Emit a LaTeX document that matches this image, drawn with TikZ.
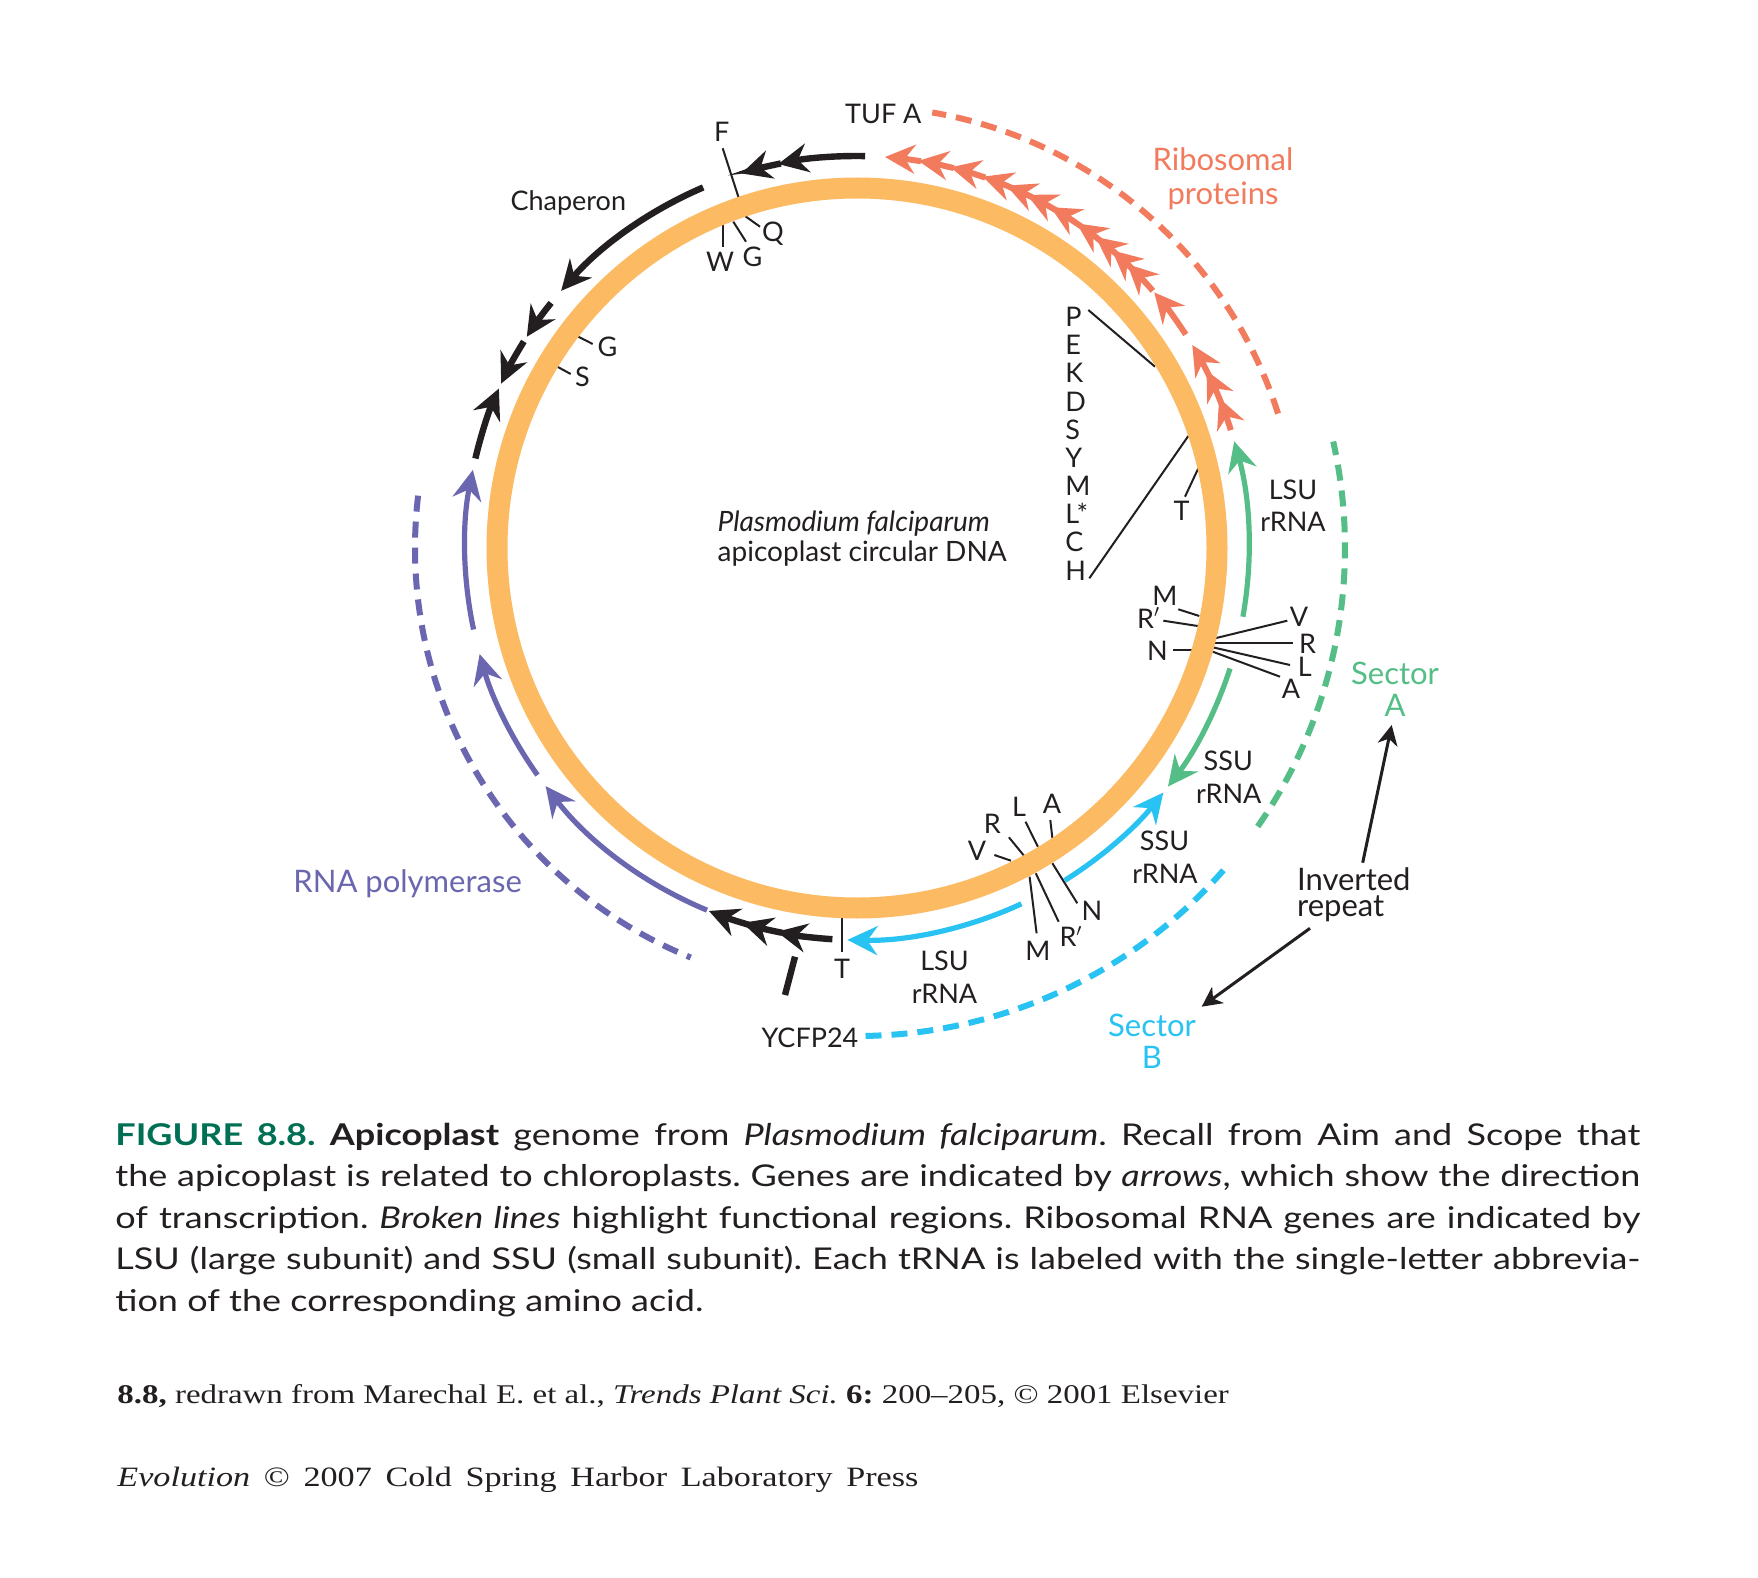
\documentclass[tikz,border=0pt]{standalone}
\usepackage{fontspec}
\setmainfont{Lato}
\newfontfamily\capfont[FakeStretch=1.2]{Lato}
\newfontfamily\credfont[FakeStretch=1.22]{Liberation Serif}
\usetikzlibrary{arrows.meta,calc}
\definecolor{ringc}{RGB}{252,186,99}
\definecolor{riboc}{RGB}{242,123,94}
\definecolor{polc}{RGB}{106,103,176}
\definecolor{secac}{RGB}{84,190,134}
\definecolor{secbc}{RGB}{40,195,242}
\definecolor{figc}{RGB}{0,112,84}
\definecolor{inkc}{RGB}{35,31,32}
\newcommand\genearc[4]{\draw[#1] ($(C)+(-#3:#2)$) arc[start angle=-#3,end angle=-#4,radius=#2];}
\begin{document}
\frenchspacing
\begin{tikzpicture}[x=0.5pt,y=-0.5pt,
  hd/.style={-{Stealth[length=15pt,width=14.5pt,inset=5pt]}},
  gk/.style={hd,draw=inkc,line width=3.2pt},
  gr/.style={hd,draw=riboc,line width=3pt},
  gp/.style={hd,draw=polc,line width=2.6pt},
  ga/.style={hd,draw=secac,line width=2.6pt},
  gb/.style={hd,draw=secbc,line width=2.6pt},
  dsh/.style={line width=3pt,dash pattern=on 8pt off 5pt},
  tick/.style={draw=inkc,line width=1pt},
  lbl/.style={inner sep=0pt,anchor=base,text=inkc,font=\fontsize{13.5}{16}\selectfont},
  big/.style={inner sep=0pt,anchor=base,font=\fontsize{15.5}{18}\selectfont},
  ptr/.style={draw=inkc,line width=1.5pt,-{Stealth[length=10pt,width=10pt,inset=3pt]}}]
\fill[white] (0,0) rectangle (1758,1578);
\useasboundingbox (0,0) rectangle (1758,1578);
\coordinate (C) at (857,548);

% functional regions (broken lines)
\genearc{dsh,draw=riboc}{442}{17.7}{80.2}
\genearc{dsh,draw=polc}{442}{173.2}{247.9}
\genearc{dsh,draw=secac}{488}{325.2}{372.6}
\genearc{dsh,draw=secbc}{488}{271}{319.1}

% tRNA ticks
\draw[tick] (722.7,148.3) -- (741,205);
\draw[tick] (722.7,225) -- (722.7,246.7);
\draw[tick] (733.3,221.7) -- (746,241.7);
\draw[tick] (745,216) -- (760,226.7);
\draw[tick] (578.3,336.7) -- (592.7,344);
\draw[tick] (557.3,366.7) -- (570.7,374);
\draw[tick] (1088.3,310) -- (1155,366.7);
\draw[tick] (1089.3,578.3) -- (1188.3,436);
\draw[tick] (1185,496.7) -- (1198.3,468.3);
\draw[tick] (1178.3,609.3) -- (1199.3,616);
\draw[tick] (1163.3,620.7) -- (1197.7,626);
\draw[tick] (1173.3,650) -- (1191.7,650);
\draw[tick] (1215,638.3) -- (1287.3,620.7);
\draw[tick] (1213.3,643.3) -- (1293.3,643.3);
\draw[tick] (1212.7,647.3) -- (1290,665);
\draw[tick] (1212.7,651.7) -- (1280,676.7);
\draw[tick] (994.4,855) -- (1011,860.7);
\draw[tick] (1008.9,837.3) -- (1027.5,860);
\draw[tick] (1025.5,821.7) -- (1037.9,846.7);
\draw[tick] (1050.3,820) -- (1052.4,838.3);
\draw[tick] (1029.6,876.7) -- (1036.6,933.3);
\draw[tick] (1035.8,873.3) -- (1058.6,921.7);
\draw[tick] (1052.4,863.3) -- (1077.3,903.3);
\draw[tick] (842.2,918.3) -- (842.2,951.7);
\draw[draw=inkc,line width=3.2pt] (795,956.7) -- (785,995);

% genome ring
\draw[ringc,line width=10.5pt] (C) circle[radius=360];

% ribosomal protein genes
\genearc{gr}{392}{17.5}{22.5}
\genearc{gr}{392}{21.6}{26.9}
\genearc{gr}{392}{25.9}{31.2}
\genearc{gr}{392}{33}{40.7}
\genearc{gr}{392}{41}{46.4}
\genearc{gr}{392}{44}{49.4}
\genearc{gr}{392}{47}{52.5}
\genearc{gr}{392}{50.5}{55.9}
\genearc{gr}{392}{55}{60.4}
\genearc{gr}{392}{59}{64.3}
\genearc{gr}{392}{62.3}{67.6}
\genearc{gr}{392}{66}{71.3}
\genearc{gr}{392}{70.9}{76.2}
\genearc{gr}{392}{75.7}{81}
\genearc{gr}{392}{80.6}{85.9}

% black genes
\genearc{gk}{392}{88.8}{101.6}
\genearc{gk}{392}{101.2}{107.15}
\genearc{gk}{392}{113.1}{139}
\genearc{gk}{392}{141.3}{147.4}
\genearc{gk}{392}{148.2}{155.2}
\genearc{gk}{392}{166.8}{156}
\genearc{gk}{392}{266.4}{258.2}
\genearc{gk}{392}{259}{253}
\genearc{gk}{392}{254}{247.8}

% RNA polymerase genes
\genearc{gp}{392}{247.5}{217.4}
\genearc{gp}{392}{215.4}{195.7}
\genearc{gp}{392}{192}{168.5}

% rRNA genes
\genearc{gb}{392}{294.8}{268.6}
\genearc{gb}{392}{302}{321.4}
\genearc{ga}{392}{342.1}{322.5}
\genearc{ga}{392}{349.9}{375.8}

% labels
\node[lbl] (tufa) at (883.3,123.3) {TUF A};
\node[lbl] (tF) at (721.7,141.7) {F};
\node[lbl] (tW) at (720,271.7) {W};
\node[lbl] (tG1) at (752.5,267) {G};
\node[lbl] (tQ) at (773,242) {Q};
\node[lbl] (tG2) at (607.5,356.7) {G};
\node[lbl] (tS1) at (582.5,386.7) {S};
\node[lbl] (chap) at (568.3,211) {Chaperon};
\foreach \t/\k in {P/0,E/1,K/2,D/3,S/4,Y/5,M/6,L*/7,C/8,H/9}
  \node[lbl,anchor=base west] (col\k) at (1065,326.7+28.15*\k) {\t};
\node[lbl] (tT1) at (1181.7,520.7) {T};
\node[lbl] (lsuA) at (1293,500) {LSU};
\node[lbl] (lsuA2) at (1293,531.7) {rRNA};
\node[lbl] (tM1) at (1165,605) {M};
\node[lbl] (tR1) at (1148.7,628.3) {R$'$};
\node[lbl] (tN1) at (1157.5,660) {N};
\node[lbl] (tV1) at (1299,626.7) {V};
\node[lbl] (tR2) at (1307.5,653.3) {R};
\node[lbl] (tL1) at (1304.7,676.7) {L};
\node[lbl] (tA1) at (1291,698.3) {A};
\node[lbl] (ssuA) at (1228.3,770) {SSU};
\node[lbl] (ssuA2) at (1228.7,803) {rRNA};
\node[lbl] (ssuB) at (1164.5,850) {SSU};
\node[lbl] (ssuB2) at (1165,883.3) {rRNA};
\node[lbl] (lsuB) at (944.5,970) {LSU};
\node[lbl] (lsuB2) at (944.5,1003.3) {rRNA};
\node[lbl] (tR3) at (992.3,833.3) {R};
\node[lbl] (tL2) at (1019,816.7) {L};
\node[lbl] (tA2) at (1052,813.3) {A};
\node[lbl] (tV2) at (977,860) {V};
\node[lbl] (tN2) at (1091.8,920) {N};
\node[lbl] (tR4) at (1071,946.7) {R$'$};
\node[lbl] (tM2) at (1037.9,960) {M};
\node[lbl] (tT2) at (842,978.3) {T};
\node[lbl] (ycf) at (810,1047) {YCFP24};
\node[lbl,anchor=base west,font=\fontsize{14}{16}\selectfont] (pf) at (717.3,531.7) {\itshape Plasmodium falciparum};
\node[lbl,anchor=base west,font=\fontsize{14}{16}\selectfont] (pf2) at (717.3,561.7) {apicoplast circular DNA};
\node[big,text=riboc] (ribo1) at (1223,170.7) {Ribosomal};
\node[big,text=riboc] (ribo2) at (1223,205) {proteins};
\node[big,text=polc,anchor=base west] (rnap) at (293,892) {RNA polymerase};
\node[big,text=secac] (seca1) at (1395,684.5) {Sector};
\node[big,text=secac] (seca2) at (1395,716.7) {A};
\node[big,text=secbc] (secb1) at (1152,1036.7) {Sector};
\node[big,text=secbc] (secb2) at (1152,1068) {B};
\node[big,text=inkc,anchor=base west] (inv1) at (1296.7,890) {Inverted};
\node[big,text=inkc,anchor=base west] (inv2) at (1296.7,916) {repeat};

% inverted repeat pointers
\coordinate (irA) at (1362.7,862.7);
\coordinate (irAt) at (1391.7,725);
\coordinate (irB) at (1310,928.3);
\coordinate (irBt) at (1201.7,1006.7);
\draw[ptr] (irA) -- (irAt);
\draw[ptr] (irB) -- (irBt);

% caption
\begin{scope}[every node/.style={inner sep=0pt,anchor=base west,text=inkc,font=\capfont\fontsize{15}{18}\selectfont}]
\node (cap1) at (115,1145) {\makebox[762.5pt][s]{{\bfseries\color{figc}FIGURE 8.8.} {\bfseries Apicoplast} genome from {\itshape Plasmodium falciparum}. Recall from Aim and Scope that}};
\node (cap2) at (115,1186.5) {\makebox[762.5pt][s]{the apicoplast is related to chloroplasts. Genes are indicated by {\itshape arrows}, which show the direction}};
\node (cap3) at (115,1228) {\makebox[762.5pt][s]{of transcription. {\itshape Broken lines} highlight functional regions. Ribosomal RNA genes are indicated by}};
\node (cap4) at (115,1269.5) {\makebox[762.5pt][s]{LSU (large subunit) and SSU (small subunit). Each tRNA is labeled with the single-letter abbrevia-}};
\node (cap5) at (115,1311) {tion of the corresponding amino acid.};
\end{scope}
\node[inner sep=0pt,anchor=base west,text=inkc,font=\credfont\fontsize{13.5}{16}\selectfont] (cred1) at (117,1403) {\textbf{8.8,} redrawn from Marechal E. et al., \textit{Trends Plant Sci.} \textbf{6:} 200–205, © 2001 Elsevier};
\node[inner sep=0pt,anchor=base west,text=inkc,font=\credfont\fontsize{14}{16}\selectfont] (cred2) at (117,1486) {\makebox[400.5pt][s]{\textit{Evolution} © 2007 Cold Spring Harbor Laboratory Press}};
\end{tikzpicture}
\end{document}
